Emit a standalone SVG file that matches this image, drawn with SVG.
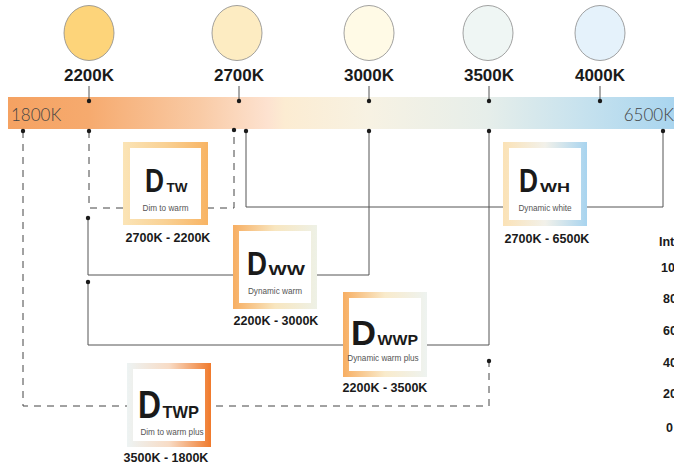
<svg xmlns="http://www.w3.org/2000/svg" width="674" height="468" viewBox="0 0 674 468">
<style>
.lbl{font-family:"Liberation Sans",Arial,sans-serif;font-weight:bold;fill:#1a1a1a;text-anchor:middle}
.top{font-size:17px}
.rng{font-size:12.5px}
.end{font-family:Lato,"Liberation Sans",sans-serif;font-weight:300;font-size:17px;fill:#444}
.bigd{font-family:"Liberation Sans",Arial,sans-serif;font-weight:bold;fill:#1a1a1a}
.sub{font-family:"Liberation Sans",Arial,sans-serif;font-size:8.2px;fill:#555;text-anchor:middle}
.side{font-family:"Liberation Sans",Arial,sans-serif;font-weight:bold;font-size:12.5px;fill:#1a1a1a}
.bulb{stroke:#8a8a8a;stroke-width:0.8}
.ln{fill:none;stroke:#555;stroke-width:1}
.dash{fill:none;stroke:#444;stroke-width:1;stroke-dasharray:7 6}
.dot{fill:#1a1a1a}
.inner{fill:#fff}
</style>
<defs>
<linearGradient id="bar" gradientUnits="userSpaceOnUse" x1="8" y1="0" x2="674" y2="0">
<stop offset="0" stop-color="#f5a262"/>
<stop offset="0.12" stop-color="#f6aa6e"/>
<stop offset="0.29" stop-color="#f9cba6"/>
<stop offset="0.39" stop-color="#fde2d0"/>
<stop offset="0.416" stop-color="#fcecd2"/>
<stop offset="0.543" stop-color="#f7f2e3"/>
<stop offset="0.72" stop-color="#e6eeea"/>
<stop offset="0.86" stop-color="#c7e2ee"/>
<stop offset="1" stop-color="#a9d5ef"/>
</linearGradient>
<linearGradient id="gTW" x1="0" y1="0" x2="1" y2="0">
<stop offset="0" stop-color="#fbe4b6"/>
<stop offset="0.5" stop-color="#f9d194"/>
<stop offset="1" stop-color="#f8b464"/>
</linearGradient>
<linearGradient id="gWW" x1="0" y1="0" x2="1" y2="0">
<stop offset="0" stop-color="#f7ae62"/>
<stop offset="0.5" stop-color="#f8e6c0"/>
<stop offset="1" stop-color="#eef1e6"/>
</linearGradient>
<linearGradient id="gWWP" x1="0" y1="0" x2="1" y2="0">
<stop offset="0" stop-color="#f7ae62"/>
<stop offset="0.5" stop-color="#f9ebcc"/>
<stop offset="1" stop-color="#eef3f0"/>
</linearGradient>
<linearGradient id="gWH" x1="0" y1="0" x2="1" y2="0">
<stop offset="0" stop-color="#fbe2b6"/>
<stop offset="0.5" stop-color="#f2f1ea"/>
<stop offset="1" stop-color="#a8d4ef"/>
</linearGradient>
<linearGradient id="gTWP" x1="0" y1="0" x2="1" y2="0">
<stop offset="0" stop-color="#edf3f3"/>
<stop offset="0.5" stop-color="#f8dcc6"/>
<stop offset="1" stop-color="#f07a2c"/>
</linearGradient>
</defs>

<rect width="674" height="468" fill="#fff"/>

<g id="bulbs">
<ellipse class="bulb" cx="89" cy="33" rx="25" ry="27.5" fill="#fdd47a"/>
<ellipse class="bulb" cx="237" cy="33" rx="25" ry="27.5" fill="#fdecc2"/>
<ellipse class="bulb" cx="369" cy="33" rx="25" ry="27.5" fill="#fffae6"/>
<ellipse class="bulb" cx="488" cy="33" rx="25" ry="27.5" fill="#eff6f4"/>
<ellipse class="bulb" cx="600" cy="33" rx="25" ry="27.5" fill="#e5f2fb"/>
<text class="lbl top" x="89" y="81">2200K</text>
<text class="lbl top" x="239" y="81">2700K</text>
<text class="lbl top" x="369" y="81">3000K</text>
<text class="lbl top" x="489" y="81">3500K</text>
<text class="lbl top" x="600" y="81">4000K</text>
</g>

<g id="scale">
<rect x="8" y="97" width="666" height="32" fill="url(#bar)"/>
<text class="end" x="11" y="121">1800K</text>
<text class="end" x="674" y="121" text-anchor="end">6500K</text>
</g>

<g id="connectors">
<path class="ln" d="M89,86V101M239,86V101M369,86V101M489,86V101M600,86V101"/>
<circle class="dot" cx="89" cy="101" r="2.2"/>
<circle class="dot" cx="239" cy="101" r="2.2"/>
<circle class="dot" cx="369" cy="101" r="2.2"/>
<circle class="dot" cx="489" cy="101" r="2.2"/>
<circle class="dot" cx="600" cy="101" r="2.2"/>
<path class="dash" d="M89,131V208H234V131"/>
<path class="ln" d="M246,131V207H663V131"/>
<path class="ln" d="M88,218V275H369V131"/>
<path class="ln" d="M88,282V345H489V131"/>
<path class="dash" d="M23,131V406H489V361"/>
<circle class="dot" cx="23" cy="131" r="2.2"/>
<circle class="dot" cx="89" cy="131" r="2.2"/>
<circle class="dot" cx="234" cy="130" r="2.2"/>
<circle class="dot" cx="246" cy="131" r="2.2"/>
<circle class="dot" cx="369" cy="131" r="2.2"/>
<circle class="dot" cx="489" cy="131" r="2.2"/>
<circle class="dot" cx="663" cy="131" r="2.2"/>
<circle class="dot" cx="88" cy="218" r="2.2"/>
<circle class="dot" cx="88" cy="282" r="2.2"/>
<circle class="dot" cx="489" cy="361" r="2.2"/>
</g>

<g id="node-dtw">
<rect x="123" y="142" width="85" height="83" fill="url(#gTW)"/>
<rect class="inner" x="130" y="148" width="71" height="71"/>
<text class="bigd" x="145" y="192" font-size="33" textLength="19" lengthAdjust="spacingAndGlyphs">D</text>
<text class="bigd" x="166.5" y="192" font-size="12.5" textLength="21" lengthAdjust="spacingAndGlyphs">TW</text>
<text class="sub" x="165.5" y="211">Dim to warm</text>
<text class="lbl rng" x="168" y="242">2700K - 2200K</text>
</g>

<g id="node-dwh">
<rect x="503" y="142" width="84" height="84" fill="url(#gWH)"/>
<rect class="inner" x="509" y="148" width="72" height="72"/>
<text class="bigd" x="519" y="192" font-size="33" textLength="19" lengthAdjust="spacingAndGlyphs">D</text>
<text class="bigd" x="540" y="192" font-size="12" textLength="30" lengthAdjust="spacingAndGlyphs">WH</text>
<text class="sub" x="545" y="211">Dynamic white</text>
<text class="lbl rng" x="547" y="243">2700K - 6500K</text>
</g>

<g id="node-dww">
<rect x="233" y="225" width="84" height="84" fill="url(#gWW)"/>
<rect class="inner" x="239" y="231" width="72" height="72"/>
<text class="bigd" x="247" y="275" font-size="33" textLength="20" lengthAdjust="spacingAndGlyphs">D</text>
<text class="bigd" x="268.5" y="275" font-size="15.5" textLength="36.5" lengthAdjust="spacingAndGlyphs">WW</text>
<text class="sub" x="275" y="294">Dynamic warm</text>
<text class="lbl rng" x="276" y="325">2200K - 3000K</text>
</g>

<g id="node-dwwp">
<rect x="343" y="292" width="84" height="85" fill="url(#gWWP)"/>
<rect class="inner" x="349" y="298" width="72" height="73"/>
<text class="bigd" x="351" y="345" font-size="35" textLength="25" lengthAdjust="spacingAndGlyphs">D</text>
<text class="bigd" x="377.5" y="345" font-size="15.5" textLength="40.5" lengthAdjust="spacingAndGlyphs">WWP</text>
<text class="sub" x="383" y="361">Dynamic warm plus</text>
<text class="lbl rng" x="385" y="392">2200K - 3500K</text>
</g>

<g id="node-dtwp">
<rect x="127" y="363" width="84" height="84" fill="url(#gTWP)"/>
<rect class="inner" x="133" y="369" width="72" height="72"/>
<text class="bigd" x="138" y="418" font-size="38" textLength="23" lengthAdjust="spacingAndGlyphs">D</text>
<text class="bigd" x="162.5" y="418" font-size="17" textLength="36.5" lengthAdjust="spacingAndGlyphs">TWP</text>
<text class="sub" x="172" y="435">Dim to warm plus</text>
<text class="lbl rng" x="166" y="462">3500K - 1800K</text>
</g>

<g id="intensity">
<text class="side" x="659" y="246">Int</text>
<text class="side" x="661" y="272">10</text>
<text class="side" x="663" y="303">80</text>
<text class="side" x="663" y="335">60</text>
<text class="side" x="663" y="367">40</text>
<text class="side" x="663" y="398">20</text>
<text class="side" x="666" y="432">0</text>
</g>
</svg>
